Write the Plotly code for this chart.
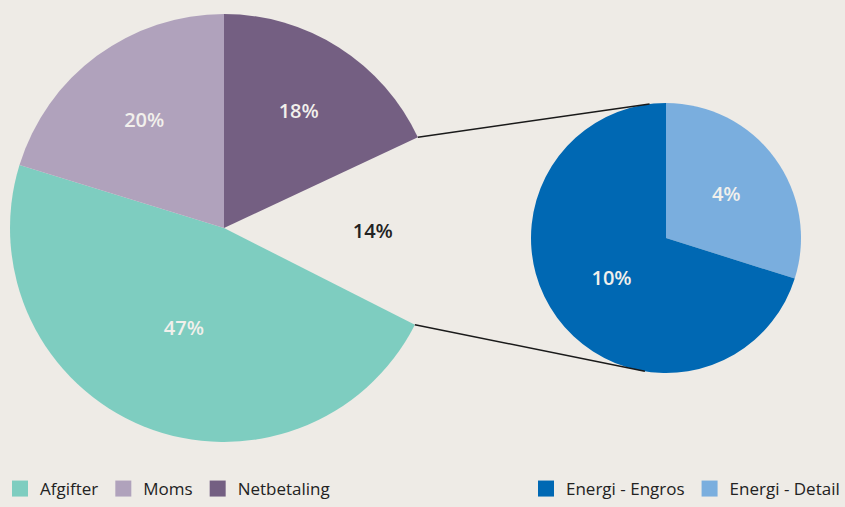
import math
import plotly.graph_objects as go

W, H = 845, 507

# ---- data ----
main_labels = ["Netbetaling", "Energi", "Afgifter", "Moms"]
main_values = [18.0, 14.4, 47.2, 20.2]
main_text = ["18%", "14%", "47%", "20%"]
sub_labels = ["Energi - Detail", "Energi - Engros"]
sub_values = [4.3, 10.1]
sub_text = ["4%", "10%"]
legend_left = ["Afgifter", "Moms", "Netbetaling"]
legend_right = ["Energi - Engros", "Energi - Detail"]

# ---- style ----
BG = "#EEEBE6"
LIGHT = "#F2F0EC"
DARK = "#222222"
colors = {
    "Afgifter": "#7ECDC0",
    "Moms": "#B0A2BC",
    "Netbetaling": "#745F82",
    "Energi": "rgba(0,0,0,0)",
    "Energi - Engros": "#0068B3",
    "Energi - Detail": "#7AAEDE",
}
FONT = "Open Sans"

# geometry (pixels)
L_CX, L_CY, L_R = 224, 228, 214
R_CX, R_CY, R_R = 666, 238, 135


def domain(cx, cy, r):
    return dict(x=[(cx - r) / W, (cx + r) / W], y=[1 - (cy + r) / H, 1 - (cy - r) / H])


def to_paper(px, py):
    return px / W, 1 - py / H


fig = go.Figure()

fig.add_trace(go.Pie(
    labels=main_labels, values=main_values, text=main_text,
    textinfo="text", sort=False, direction="clockwise", rotation=0,
    marker=dict(colors=[colors[l] for l in main_labels], line=dict(width=0)),
    insidetextfont=dict(family=FONT, size=20, weight=600,
                        color=[LIGHT, DARK, LIGHT, LIGHT]),
    textposition="inside", insidetextorientation="horizontal",
    domain=domain(L_CX, L_CY, L_R), showlegend=False, hoverinfo="label+text",
))

fig.add_trace(go.Pie(
    labels=sub_labels, values=sub_values, text=sub_text,
    textinfo="text", sort=False, direction="clockwise", rotation=0,
    marker=dict(colors=[colors[l] for l in sub_labels], line=dict(width=0)),
    insidetextfont=dict(family=FONT, size=20, weight=600, color=LIGHT),
    textposition="inside", insidetextorientation="horizontal",
    domain=domain(R_CX, R_CY, R_R), showlegend=False, hoverinfo="label+text",
))

# legend entries
for name in legend_left:
    fig.add_trace(go.Scatter(x=[None], y=[None], mode="markers", name=name,
                             marker=dict(symbol="square", size=16, color=colors[name]),
                             legend="legend"))
for name in legend_right:
    fig.add_trace(go.Scatter(x=[None], y=[None], mode="markers", name=name,
                             marker=dict(symbol="square", size=16, color=colors[name]),
                             legend="legend2"))

# connector lines from the gap slice edges to the sub pie
total = sum(main_values)
a0 = 360 * main_values[0] / total
a1 = 360 * (main_values[0] + main_values[1]) / total
shapes = []
for a_main, a_sub in [(a0, -7), (a1, 189)]:
    p1 = (L_CX + L_R * math.sin(math.radians(a_main)), L_CY - L_R * math.cos(math.radians(a_main)))
    p2 = (R_CX + R_R * math.sin(math.radians(a_sub)), R_CY - R_R * math.cos(math.radians(a_sub)))
    x0, y0 = to_paper(*p1)
    x1, y1 = to_paper(*p2)
    shapes.append(dict(type="line", xref="paper", yref="paper", x0=x0, y0=y0, x1=x1, y1=y1,
                       line=dict(color="#1a1a1a", width=1.5)))

legend_common = dict(orientation="h", yanchor="bottom", y=0, bgcolor="rgba(0,0,0,0)",
                     font=dict(family=FONT, size=17, color=DARK),
                     itemclick=False, itemdoubleclick=False)

fig.update_layout(
    width=W, height=H, autosize=False,
    margin=dict(l=0, r=0, t=0, b=0),
    paper_bgcolor=BG, plot_bgcolor=BG,
    xaxis=dict(visible=False), yaxis=dict(visible=False),
    shapes=shapes,
    legend=dict(x=0, xanchor="left", **legend_common),
    legend2=dict(x=1, xanchor="right", **legend_common),
)

fig.write_html("out.html")
